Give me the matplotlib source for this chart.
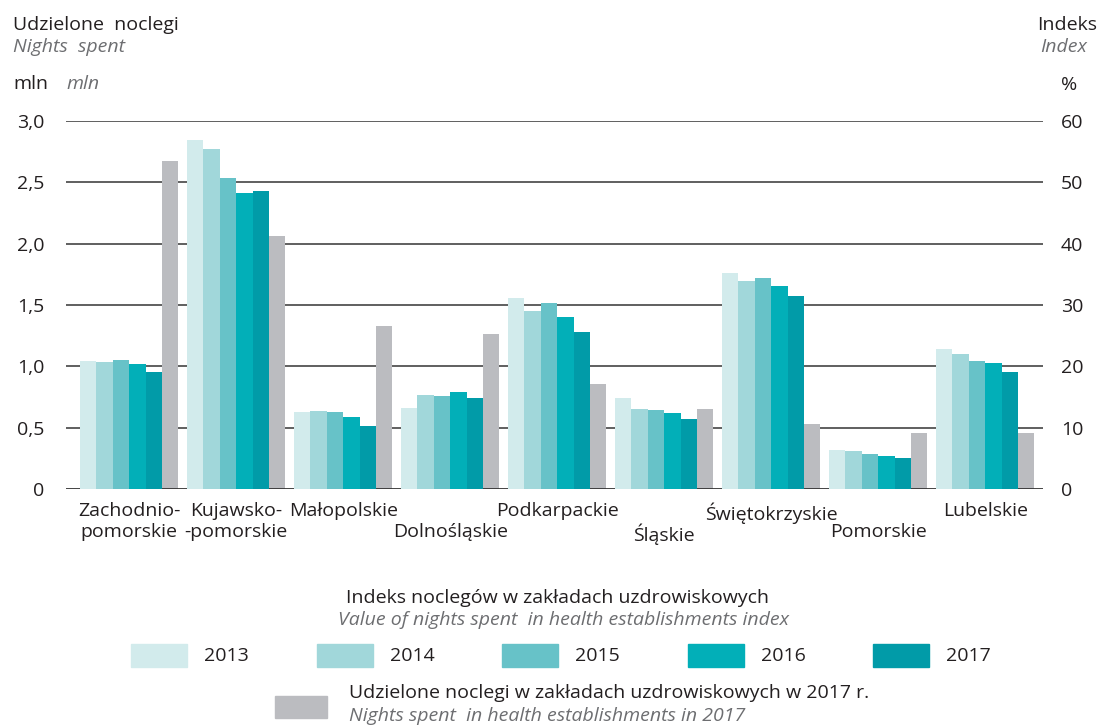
# Nights spent in health establishments by voivodeship
import numpy as np
import matplotlib.pyplot as plt
from matplotlib.patches import Rectangle

plt.rcParams['font.family'] = ['Open Sans', 'DejaVu Sans']

# data
regions = ['Zachodnio-\npomorskie', 'Kujawsko-\n-pomorskie', 'Małopolskie', '\nDolnośląskie',
           'Podkarpackie', '\nŚląskie', 'Świętokrzyskie', '\nPomorskie', 'Lubelskie']
years = ['2013', '2014', '2015', '2016', '2017']
idx_2013 = [20.9, 56.9, 12.6, 13.2, 31.1, 14.8, 35.2, 6.4, 22.8]
idx_2014 = [20.7, 55.4, 12.7, 15.3, 29.0, 13.0, 33.9, 6.2, 22.0]
idx_2015 = [21.0, 50.7, 12.6, 15.2, 30.3, 12.9, 34.4, 5.7, 20.9]
idx_2016 = [20.4, 48.3, 11.7, 15.8, 28.0, 12.4, 33.1, 5.4, 20.5]
idx_2017 = [19.1, 48.6, 10.3, 14.8, 25.6, 11.4, 31.5, 5.1, 19.1]
nights_2017 = [2.67, 2.06, 1.33, 1.26, 0.86, 0.65, 0.53, 0.46, 0.46]  # mln

left_ticks = [0, 0.5, 1.0, 1.5, 2.0, 2.5, 3.0]
left_labels = ['0', '0,5', '1,0', '1,5', '2,0', '2,5', '3,0']
right_ticks = [0, 10, 20, 30, 40, 50, 60]

year_colors = ['#d2ebec', '#a1d7da', '#67c2c8', '#02afb8', '#019ba8']
gray = '#bbbcc0'
dark = '#231f20'
soft = '#6d6e71'
fs = 14

W, H = 1100, 726
fig = plt.figure(figsize=(W / 100, H / 100), dpi=100)
ax = fig.add_axes([66 / W, 1 - 489 / H, (1043 - 66) / W, (489 - 121) / H])
ax2 = ax.twinx()

x = np.arange(len(regions))
w = 0.153
series = [idx_2013, idx_2014, idx_2015, idx_2016, idx_2017]

# grid on the left axis, under everything
for t in left_ticks[1:]:
    ax.axhline(t, color='#5f5f5f', lw=1.4, zorder=0)
ax.axhline(0, color='#333333', lw=2, zorder=5)

ax.bar(x + 2.5 * w, nights_2017, w, color=gray, zorder=2)
for k, vals in enumerate(series):
    ax2.bar(x + (k - 2.5) * w, vals, w, color=year_colors[k], zorder=2)

ax.set_xlim(-0.59, 8.54)
ax.set_ylim(0, 3.0)
ax2.set_ylim(0, 60)

# pads are in points: 1 pt = 1.39 px at 100 dpi
ax.set_yticks(left_ticks, left_labels)
ax2.set_yticks(right_ticks, [str(t) for t in right_ticks])
ax.tick_params(axis='y', length=0, pad=15.5, labelsize=fs, labelcolor=dark)
ax2.tick_params(axis='y', length=0, pad=13, labelsize=fs, labelcolor=dark)

ax.set_xticks(x, regions)
ax.tick_params(axis='x', length=0, pad=9.5, labelsize=fs, labelcolor=dark)
for lab in ax.get_xticklabels():
    lab.set_linespacing(1.2)

for a in (ax, ax2):
    for s in a.spines.values():
        s.set_visible(False)

# axis titles
def fx(px):
    return px / W

def fy(py):
    return 1 - py / H

fig.text(fx(13), fy(25), 'Udzielone  noclegi', fontsize=fs, color=dark, va='center')
fig.text(fx(13), fy(47), 'Nights  spent', fontsize=fs, color=soft, style='italic', va='center')
fig.text(fx(13), fy(84), 'mln', fontsize=fs, color=dark, va='center')
fig.text(fx(66), fy(84), 'mln', fontsize=fs, color=soft, style='italic', va='center')
fig.text(fx(1097), fy(25), 'Indeks', fontsize=fs, color=dark, va='center', ha='right')
fig.text(fx(1087), fy(47), 'Index', fontsize=fs, color=soft, style='italic', va='center', ha='right')
fig.text(fx(1061), fy(85), '%', fontsize=fs, color=dark, va='center')

# legend
fig.text(fx(558), fy(598), 'Indeks noclegów w zakładach uzdrowiskowych', fontsize=fs,
         color=dark, ha='center', va='center')
fig.text(fx(564), fy(620), 'Value of nights spent  in health establishments index', fontsize=fs,
         color=soft, style='italic', ha='center', va='center')
for k, yr in enumerate(years):
    x0 = 131 + k * 185.6
    fig.patches.append(Rectangle((fx(x0), fy(667)), 56 / W, 23 / H, transform=fig.transFigure,
                                 color=year_colors[k]))
    fig.text(fx(x0 + 73), fy(656), yr, fontsize=fs, color=dark, va='center')
fig.patches.append(Rectangle((fx(275), fy(718)), 52 / W, 22 / H, transform=fig.transFigure, color=gray))
fig.text(fx(349), fy(693), 'Udzielone noclegi w zakładach uzdrowiskowych w 2017 r.', fontsize=fs,
         color=dark, va='center')
fig.text(fx(349), fy(716), 'Nights spent  in health establishments in 2017', fontsize=fs,
         color=soft, style='italic', va='center')

fig.savefig('out.png', dpi=100)
